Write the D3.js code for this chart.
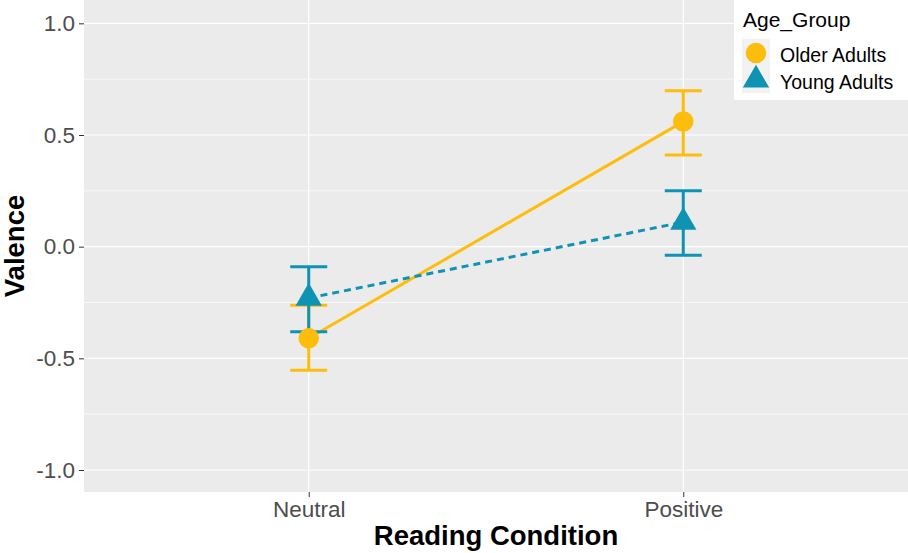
<!DOCTYPE html>
<html>
<head>
<meta charset="utf-8">
<script src="https://cdn.jsdelivr.net/npm/d3@7"></script>
<style>
  body { margin: 0; background: #fff; }
  svg text { font-family: "Liberation Sans", Arial, sans-serif; }
</style>
</head>
<body>
<div id="chart"></div>
<script>
// data
var conditions = ["Neutral", "Positive"]
var groups = ["Older Adults", "Young Adults"]
var olderMean = [-0.41, 0.56]
var olderLow = [-0.553, 0.41]
var olderHigh = [-0.262, 0.698]
var youngMean = [-0.23, 0.11]
var youngLow = [-0.381, -0.038]
var youngHigh = [-0.09, 0.25]
var yTicks = [-1.0, -0.5, 0.0, 0.5, 1.0]
var colors = ["#FDBD0C", "#0F93B3"]

var width = 908, height = 553
var margin = {top: 0, right: 0, bottom: 61, left: 84}
var panelW = width - margin.left - margin.right
var panelH = height - margin.top - margin.bottom

var svg = d3.select("#chart").append("svg")
    .attr("width", width).attr("height", height)

var panel = svg.append("g")
    .attr("transform", "translate(" + [margin.left, margin.top] + ")")

// discrete axis with 0.6 expansion on each side
var xScale = d3.scaleLinear().domain([0.4, 2.6]).range([0, panelW])
function xPos(c) { return xScale(conditions.indexOf(c) + 1) }

var yScale = d3.scaleLinear().domain([-1.0985, 1.1045]).range([panelH, 0])

panel.append("rect").attr("width", panelW).attr("height", panelH).attr("fill", "#EBEBEB")

// minor grid
var minor = [-0.75, -0.25, 0.25, 0.75]
panel.selectAll(".minor").data(minor).enter().append("line")
    .attr("x1", 0).attr("x2", panelW)
    .attr("y1", function (d) { return yScale(d) }).attr("y2", function (d) { return yScale(d) })
    .attr("stroke", "#fff").attr("stroke-width", 0.6)

panel.selectAll(".major").data(yTicks).enter().append("line")
    .attr("x1", 0).attr("x2", panelW)
    .attr("y1", function (d) { return yScale(d) }).attr("y2", function (d) { return yScale(d) })
    .attr("stroke", "#fff").attr("stroke-width", 1.2)

panel.selectAll(".vmajor").data(conditions).enter().append("line")
    .attr("x1", xPos).attr("x2", xPos)
    .attr("y1", 0).attr("y2", panelH)
    .attr("stroke", "#fff").attr("stroke-width", 1.2)

// axes
var yAxis = d3.axisLeft(yScale).tickValues(yTicks).tickSize(5).tickPadding(4)
var gy = svg.append("g").attr("transform", "translate(" + [margin.left, margin.top] + ")").call(yAxis)
gy.select(".domain").remove()
gy.selectAll("line").attr("stroke", "#333")
gy.selectAll("text").attr("font-size", 22.5).attr("fill", "#4D4D4D")
    .text(function (d) { return d3.format(".1f")(d).replace("−", "-") })

var xAxis = d3.axisBottom(xScale).tickValues([1, 2]).tickFormat(function (d) { return conditions[d - 1] }).tickSize(5).tickPadding(4)
var gx = svg.append("g").attr("transform", "translate(" + [margin.left, margin.top + panelH] + ")").call(xAxis)
gx.select(".domain").remove()
gx.selectAll("line").attr("stroke", "#333")
gx.selectAll("text").attr("font-size", 22.5).attr("fill", "#4D4D4D")

svg.append("text").attr("x", margin.left + panelW / 2).attr("y", 545)
    .attr("text-anchor", "middle").attr("font-size", 27.5).attr("font-weight", "bold").attr("fill", "#000")
    .text("Reading Condition")
svg.append("text").attr("transform", "translate(24," + (margin.top + panelH / 2) + ") rotate(-90)")
    .attr("text-anchor", "middle").attr("font-size", 27.5).attr("font-weight", "bold").attr("fill", "#000")
    .text("Valence")

var series = [
    {name: groups[0], mean: olderMean, low: olderLow, high: olderHigh, color: colors[0], dash: null, shape: d3.symbolCircle},
    {name: groups[1], mean: youngMean, low: youngLow, high: youngHigh, color: colors[1], dash: "7,5", shape: d3.symbolTriangle}
]

var line = d3.line()
    .x(function (d, i) { return xScale(i + 1) })
    .y(function (d) { return yScale(d) })

series.forEach(function (s) {
    panel.append("path").datum(s.mean).attr("d", line)
        .attr("fill", "none").attr("stroke", s.color).attr("stroke-width", 3)
        .attr("stroke-dasharray", s.dash)
})

series.forEach(function (s) {
    var g = panel.append("g")
    conditions.forEach(function (c, i) {
        var x = xPos(c)
        g.append("line").attr("x1", x).attr("x2", x)
            .attr("y1", yScale(s.low[i])).attr("y2", yScale(s.high[i]))
            .attr("stroke", s.color).attr("stroke-width", 3)
        ;[s.low[i], s.high[i]].forEach(function (v) {
            g.append("line").attr("x1", x - 18.5).attr("x2", x + 18.5)
                .attr("y1", yScale(v)).attr("y2", yScale(v))
                .attr("stroke", s.color).attr("stroke-width", 3)
        })
    })
})

series.forEach(function (s) {
    panel.selectAll(null).data(s.mean).enter().append("path")
        .attr("d", d3.symbol().type(s.shape).size(s.shape === d3.symbolCircle ? 330 : 300))
        .attr("transform", function (d, i) { return "translate(" + [xScale(i + 1), yScale(d)] + ")" })
        .attr("fill", s.color)
})

// legend
var legend = svg.append("g").attr("transform", "translate(734,0)")
legend.append("rect").attr("width", 174).attr("height", 100).attr("fill", "#fff")
legend.append("text").attr("x", 9).attr("y", 27).attr("font-size", 21).attr("fill", "#000").text("Age_Group")
series.forEach(function (s, i) {
    var ky = 39 + i * 27
    legend.append("rect").attr("x", 8).attr("y", ky).attr("width", 28).attr("height", 27).attr("fill", "#F2F2F2")
    legend.append("path")
        .attr("d", d3.symbol().type(s.shape).size(s.shape === d3.symbolCircle ? 330 : 300))
        .attr("transform", "translate(" + [22, ky + 14] + ")")
        .attr("fill", s.color)
    legend.append("text").attr("x", 46).attr("y", ky + 23).attr("font-size", 19.5).attr("fill", "#000").text(s.name)
})
</script>
</body>
</html>
